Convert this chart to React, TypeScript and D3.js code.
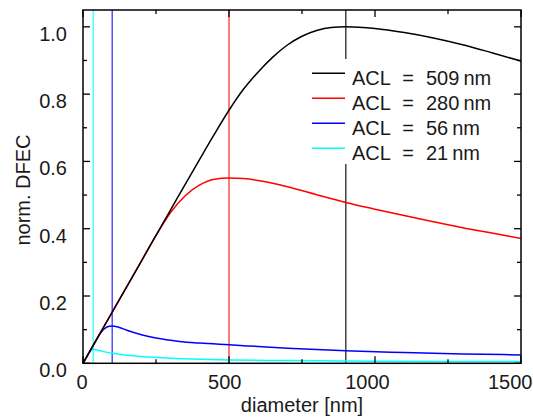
import React from "react";
import * as d3 from "d3";

const W = 533;
const H = 419;

const xTicksMajor = [0, 500, 1000, 1500];
const xTicksMinor = [250, 750, 1250];
const yTicksMajor = [0, 0.2, 0.4, 0.6, 0.8, 1.0];
const yTicksMinor = [0.1, 0.3, 0.5, 0.7, 0.9];

const seriesNames = ["ACL = 509 nm", "ACL = 280 nm", "ACL = 56 nm", "ACL = 21 nm"];
const seriesAcl = ["509", "280", "56", "21"];
const seriesColors = ["#000000", "#ff0000", "#0000ff", "#00ffff"];
const peakDiameters = [900, 500, 100, 35];

const blackD = [0, 100, 200, 300, 400, 450, 500, 550, 600, 650, 700, 750, 800, 850, 900, 1000, 1100, 1200, 1300, 1400, 1500];
const blackV = [0, 0.152, 0.304, 0.456, 0.607, 0.681, 0.752, 0.815, 0.866, 0.91, 0.946, 0.972, 0.989, 0.998, 1.0, 0.995, 0.983, 0.967, 0.947, 0.923, 0.898];

const redD = [0, 100, 200, 250, 300, 350, 400, 450, 500, 550, 600, 650, 700, 800, 900, 1000, 1100, 1200, 1300, 1400, 1500];
const redV = [0, 0.152, 0.304, 0.38, 0.448, 0.498, 0.53, 0.547, 0.551, 0.549, 0.543, 0.535, 0.525, 0.501, 0.478, 0.458, 0.439, 0.421, 0.403, 0.387, 0.371];

const blueD = [0, 40, 60, 75, 90, 100, 120, 150, 200, 250, 330, 400, 500, 700, 900, 1100, 1300, 1500];
const blueV = [0, 0.061, 0.09, 0.104, 0.11, 0.111, 0.108, 0.098, 0.085, 0.075, 0.065, 0.06, 0.055, 0.045, 0.037, 0.032, 0.028, 0.025];

const cyanD = [0, 15, 25, 35, 50, 75, 100, 150, 200, 300, 400, 500, 700, 1000, 1500];
const cyanV = [0, 0.023, 0.036, 0.0416, 0.039, 0.034, 0.03, 0.024, 0.02, 0.015, 0.012, 0.01, 0.008, 0.006, 0.005];

const seriesD = [blackD, redD, blueD, cyanD];
const seriesV = [blackV, redV, blueV, cyanV];

const FONT = "'Liberation Sans', Arial, sans-serif";
const TXT = "#1a1a1a";

export default function App() {
  const left = 83, right = 521, top = 10, bottom = 363.3;
  const x = d3.scaleLinear().domain([0, 1500]).range([left, right]);
  const y = d3.scaleLinear().domain([0, 1.05]).range([bottom, top]);

  const line = d3
    .line<[number, number]>()
    .x((d) => x(d[0]))
    .y((d) => y(d[1]))
    .curve(d3.curveMonotoneX);

  const paths = seriesD.map((ds, i) =>
    line(ds.map((d, j) => [d, seriesV[i][j]] as [number, number])) || ""
  );

  const legX1 = 312, legX2 = 345, legY0 = 73.3, legDy = 25;

  return (
    <svg
      width={W}
      height={H}
      style={{ position: "absolute", left: 0, top: 0, background: "#fff" }}
      fontFamily={FONT}
    >
      <rect x={0} y={0} width={W} height={H} fill="#fff" />
      <defs>
        <clipPath id="plot">
          <rect x={left} y={top} width={right - left} height={bottom - top} />
        </clipPath>
      </defs>
      <g clipPath="url(#plot)">
        {peakDiameters.map((p, i) => (
          <line
            key={"v" + i}
            x1={x(p)}
            x2={x(p)}
            y1={top}
            y2={bottom}
            stroke={seriesColors[i]}
            strokeWidth={1.3}
            strokeOpacity={i === 0 ? 0.85 : 0.8}
          />
        ))}
        <rect x={306} y={59} width={195} height={105} fill="#fff" />
        {paths
          .map((p, i) => (
            <path key={"p" + i} d={p} fill="none" stroke={seriesColors[i]} strokeWidth={1.5} />
          ))
          .reverse()}
      </g>

      {seriesNames.map((n, i) => {
        const ly = legY0 + i * legDy;
        return (
          <g key={"l" + i}>
            <line x1={legX1} x2={legX2} y1={ly} y2={ly} stroke={seriesColors[i]} strokeWidth={1.5} />
            <text y={ly + 11.5} fontSize={20} fill={TXT}>
              <tspan x={352}>ACL</tspan>
              <tspan x={408} textAnchor="middle">=</tspan>
              <tspan x={426}>{seriesAcl[i]}</tspan>
              <tspan dx={4}>nm</tspan>
            </text>
          </g>
        );
      })}

      <rect x={left} y={top} width={right - left} height={bottom - top} fill="none" stroke="#000" strokeWidth={1.5} />

      {xTicksMajor.map((t) => (
        <g key={"xt" + t}>
          <line x1={x(t)} x2={x(t)} y1={bottom} y2={bottom - 7} stroke="#000" strokeWidth={1.3} />
          <line x1={x(t)} x2={x(t)} y1={top} y2={top + 7} stroke="#000" strokeWidth={1.3} />
          <text x={x(t) - 1 - t * 0.0065} y={389} fontSize={20} textAnchor="middle" fill={TXT}>
            {t}
          </text>
        </g>
      ))}
      {xTicksMinor.map((t) => (
        <g key={"xm" + t}>
          <line x1={x(t)} x2={x(t)} y1={bottom} y2={bottom - 4} stroke="#000" strokeWidth={1.3} />
          <line x1={x(t)} x2={x(t)} y1={top} y2={top + 4} stroke="#000" strokeWidth={1.3} />
        </g>
      ))}
      {yTicksMajor.map((t) => (
        <g key={"yt" + t}>
          <line x1={left} x2={left + 7} y1={y(t)} y2={y(t)} stroke="#000" strokeWidth={1.3} />
          <line x1={right} x2={right - 7} y1={y(t)} y2={y(t)} stroke="#000" strokeWidth={1.3} />
          <text x={67} y={y(t) + 13.8} fontSize={20} textAnchor="end" fill={TXT}>
            {t.toFixed(1)}
          </text>
        </g>
      ))}
      {yTicksMinor.map((t) => (
        <g key={"ym" + t}>
          <line x1={left} x2={left + 4} y1={y(t)} y2={y(t)} stroke="#000" strokeWidth={1.3} />
          <line x1={right} x2={right - 4} y1={y(t)} y2={y(t)} stroke="#000" strokeWidth={1.3} />
        </g>
      ))}

      <text x={302} y={412} fontSize={20} textAnchor="middle" fill={TXT}>
        diameter [nm]
      </text>
      <text transform={`translate(30,190) rotate(-90)`} fontSize={20} textAnchor="middle" fill={TXT}>
        norm. DFEC
      </text>
    </svg>
  );
}
